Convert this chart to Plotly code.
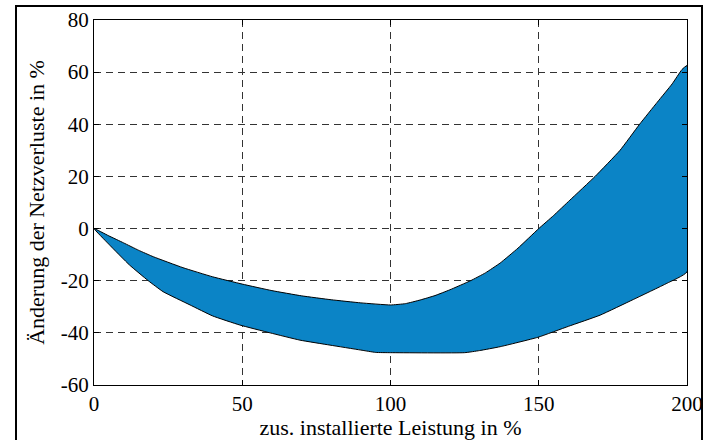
import plotly.graph_objects as go

# upper boundary (less negative loss change)
x_upper = [0, 5, 10, 15, 20, 30, 40, 50, 60, 70, 80, 90, 100, 105, 110, 115, 120,
           127, 132, 137, 143, 150, 155, 160.5, 169, 177.4, 184, 190, 195, 198.3, 200]
y_upper = [0, -2.8, -5.5, -8.3, -10.8, -15, -18.5, -21.3, -23.8, -25.8, -27.3,
           -28.5, -29.3, -28.8, -27.4, -25.7, -23.5, -20, -17, -13.2, -7.5, 0,
           5, 10.9, 20, 30, 40, 48.5, 55.5, 61, 62.5]

# lower boundary (more negative loss change)
x_lower = [0, 5, 12, 18.3, 23.3, 32.4, 40, 49.2, 59.4, 69.5, 79.6, 90, 95, 100,
           125, 130, 137, 149.7, 160, 170.7, 181.9, 193.2, 200]
y_lower = [0, -6, -14, -20, -24.2, -29.3, -33.5, -37, -40, -42.8, -44.7, -46.6,
           -47.5, -47.6, -47.6, -46.8, -45.3, -41.7, -37.5, -33.2, -27.2, -21, -16.6]

x_ticks = [0, 50, 100, 150, 200]
x_tick_labels = ["0", "50", "100", "150", "200"]
y_ticks = [-60, -40, -20, 0, 20, 40, 60, 80]
y_tick_labels = ["-60", "-40", "-20", "0", "20", "40", "60", "80"]

x_title = "zus. installierte Leistung in %"
y_title = "Änderung der Netzverluste in %"

poly_x = x_upper + x_lower[::-1]
poly_y = y_upper + y_lower[::-1]

fig = go.Figure()
fig.add_trace(go.Scatter(
    x=poly_x, y=poly_y, mode="lines", fill="toself",
    fillcolor="#0b84c6", line=dict(color="black", width=1, shape="spline", smoothing=0.4),
    hoverinfo="skip", showlegend=False))

tick_font = dict(family="Liberation Serif, Times New Roman, serif", size=21, color="black")
title_font = dict(family="Liberation Serif, Times New Roman, serif", size=22, color="black")
axis_common = dict(
    showline=True, linecolor="black", linewidth=1, mirror="ticks",
    ticks="inside", ticklen=5, tickcolor="black", tickwidth=1,
    showgrid=True, gridcolor="#333333", gridwidth=1, griddash="7px,5px",
    zeroline=False, tickfont=tick_font,
)

fig.update_xaxes(range=[0, 200], tickvals=x_ticks, ticktext=x_tick_labels,
                 title=dict(text=x_title, font=title_font, standoff=2), **axis_common)
fig.update_yaxes(range=[-60, 80], tickvals=y_ticks, ticktext=y_tick_labels,
                 title=dict(text=y_title, font=title_font, standoff=10), **axis_common)

H0 = 385 - 20
W0 = 687 - 94
fig.add_shape(type="rect", xref="paper", yref="paper",
              x0=(16 - 94) / W0, x1=(702 - 94) / W0,
              y0=(385 - 460) / H0, y1=(385 - 6) / H0,
              line=dict(color="black", width=2), fillcolor="rgba(0,0,0,0)", layer="above")

fig.update_layout(
    width=706, height=440,
    margin=dict(l=94, r=19, t=20, b=55, autoexpand=False),
    paper_bgcolor="white", plot_bgcolor="white",
    font=tick_font, showlegend=False,
)

fig.write_html("out.html", config={"displayModeBar": False},
               post_script="document.body.style.margin='0';")
